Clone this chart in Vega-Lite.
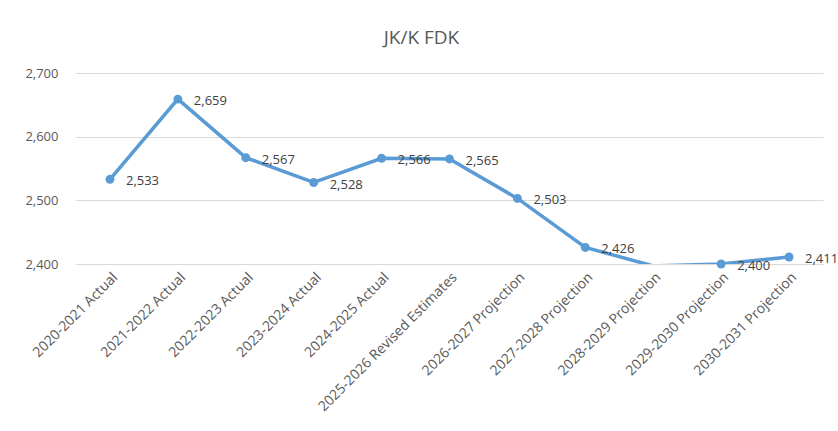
{
  "$schema": "https://vega.github.io/schema/vega-lite/v6.json",
  "autosize": "none",
  "width": 747,
  "height": 191,
  "padding": {"left": 76, "top": 73, "right": 15, "bottom": 167},
  "background": "white",
  "title": {"text": "JK/K FDK", "fontSize": 19, "font": "Open Sans", "fontWeight": "normal", "color": "#595959", "offset": 19, "dx": -28},
  "data": {"values": [
    {"year": "2020-2021 Actual", "value": 2533},
    {"year": "2021-2022 Actual", "value": 2659},
    {"year": "2022-2023 Actual", "value": 2567},
    {"year": "2023-2024 Actual", "value": 2528},
    {"year": "2024-2025 Actual", "value": 2566},
    {"year": "2025-2026 Revised Estimates", "value": 2565},
    {"year": "2026-2027 Projection", "value": 2503},
    {"year": "2027-2028 Projection", "value": 2426},
    {"year": "2028-2029 Projection", "value": 2397},
    {"year": "2029-2030 Projection", "value": 2400},
    {"year": "2030-2031 Projection", "value": 2411}
  ]},
  "encoding": {
    "x": {"field": "year", "type": "nominal", "sort": null,
      "scale": {"type": "point", "padding": 0.5},
      "axis": {"title": null, "labelAngle": -45, "labelFontSize": 14, "labelFont": "Open Sans", "labelColor": "#595959", "ticks": false, "domain": false, "grid": false, "labelPadding": 6, "labelLimit": 300}},
    "y": {"field": "value", "type": "quantitative",
      "scale": {"domain": [2400, 2700], "nice": false, "zero": false},
      "axis": {"title": null, "values": [2400, 2500, 2600, 2700], "format": ",.0f", "labelFontSize": 13, "labelFont": "Open Sans", "labelColor": "#595959", "ticks": false, "domain": false, "gridColor": "#d9d9d9", "gridWidth": 1, "labelPadding": 18}}
  },
  "layer": [
    {"mark": {"type": "line", "color": "#5b9bd5", "strokeWidth": 3.5, "clip": true}},
    {"transform": [{"filter": "datum.value >= 2400"}],
      "mark": {"type": "point", "filled": true, "color": "#5b9bd5", "size": 80, "opacity": 1}},
    {"transform": [{"filter": "datum.value >= 2400"}],
      "mark": {"type": "text", "align": "left", "dx": 16, "dy": 2, "fontSize": 13, "font": "Open Sans", "color": "#404040"},
      "encoding": {"text": {"field": "value", "type": "quantitative", "format": ","}}}
  ],
  "config": {"view": {"stroke": null}}
}
